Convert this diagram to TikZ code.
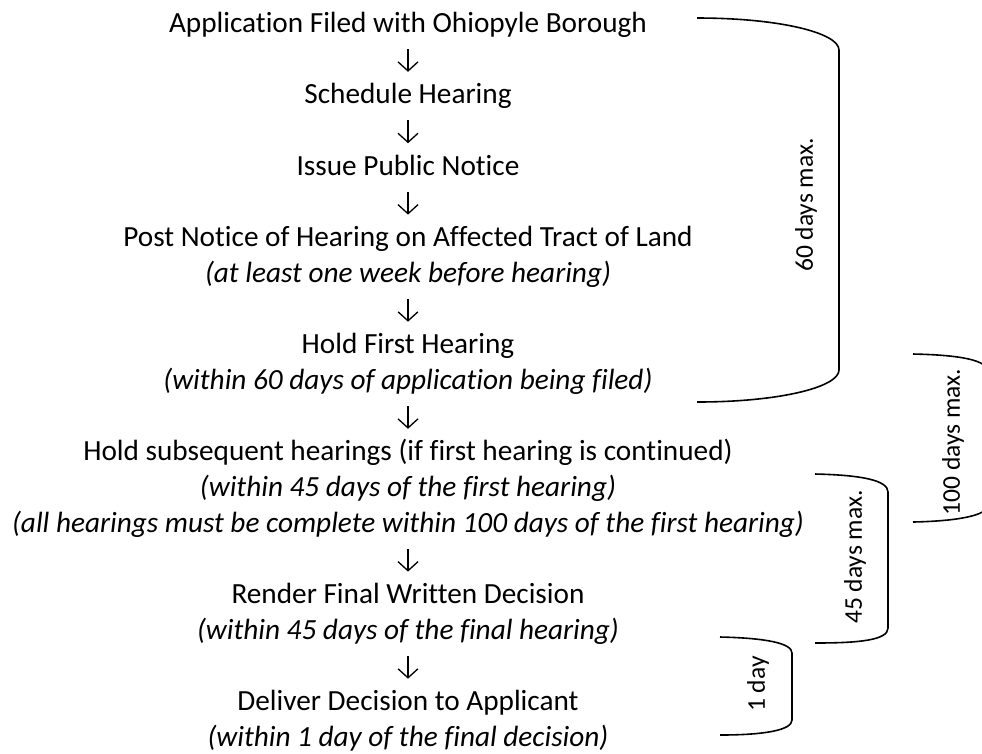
\documentclass[tikz,border=0pt]{standalone}
\usepackage{fontspec}
\setmainfont{Carlito}[Ligatures={NoCommon,NoRequired,NoContextual}]
\usetikzlibrary{arrows.meta}
\tikzset{
  stage/.style={font=\fontsize{11}{13.5}\selectfont, inner sep=0pt,
    text height=8pt, text depth=2.5pt},
  stage note/.style={stage, font=\fontsize{11}{13.5}\selectfont\itshape},
  flow/.style={-{Straight Barb[length=3.4pt,width=7.5pt]}, line width=0.5pt,
    shorten <=3.6pt, shorten >=3.8pt},
  bracket/.style={line width=0.6pt},
  span label/.style={rotate=90, font=\fontsize{9.6}{11}\selectfont}
}
\begin{document}
\begin{tikzpicture}[x=0.376pt, y=-0.376pt]
  \useasboundingbox (0,0) rectangle (982,753);
  \clip (0,0) rectangle (982,753);

  % the steps
  \node[stage] (app) at (408,25) {Application Filed with Ohiopyle Borough};
  \node[stage] (sched) at (408,96.4) {Schedule Hearing};
  \node[stage] (notice) at (408,167.8) {Issue Public Notice};
  \node[stage] (post) at (408,239.2) {Post Notice of Hearing on Affected Tract of Land};
  \node[stage note] (post note) at (408,274.9) {(at least one week before hearing)};
  \node[stage] (first) at (408,346.3) {Hold First Hearing};
  \node[stage note] (first note) at (408,382) {(within 60 days of application being filed)};
  \node[stage] (subs) at (408,453.4) {Hold subsequent hearings (if first hearing is continued)};
  \node[stage note] (subs note) at (408,489.1) {(within 45 days of the first hearing)};
  \node[stage note] (subs limit) at (408,524.8) {(all hearings must be complete within 100 days of the first hearing)};
  \node[stage] (render) at (408,596.2) {Render Final Written Decision};
  \node[stage note] (render note) at (408,631.9) {(within 45 days of the final hearing)};
  \node[stage] (deliver) at (408,703.3) {Deliver Decision to Applicant};
  \node[stage note] (deliver note) at (408,739) {(within 1 day of the final decision)};

  \draw[flow] (app) -- (sched);
  \draw[flow] (sched) -- (notice);
  \draw[flow] (notice) -- (post);
  \draw[flow] (post note) -- (first);
  \draw[flow] (first note) -- (subs);
  \draw[flow] (subs limit) -- (render);
  \draw[flow] (render note) -- (deliver);

  % time spans
  \draw[bracket] (697,18) .. controls (780,18) and (839,33) .. (839,50)
    -- (839,370) .. controls (839,387) and (780,402) .. (697,402);
  \node[span label] (span60) at (806,205) {60 days max.};

  \draw[bracket] (913,354) .. controls (960,355) and (988,360) .. (988,372)
    -- (988,505) .. controls (988,515) and (960,521) .. (913,522);
  \node[span label] (span100) at (953,442) {100 days max.};

  \draw[bracket] (815,474) .. controls (860,475) and (888,480) .. (888,492)
    -- (888,628) .. controls (888,640) and (860,643) .. (815,643);
  \node[span label] (span45) at (855,557) {45 days max.};

  \draw[bracket] (720,637) .. controls (765,638) and (792,643) .. (792,653)
    -- (792,720) .. controls (792,730) and (765,735) .. (720,735);
  \node[span label] (span1) at (758,684) {1 day};
\end{tikzpicture}
\end{document}
